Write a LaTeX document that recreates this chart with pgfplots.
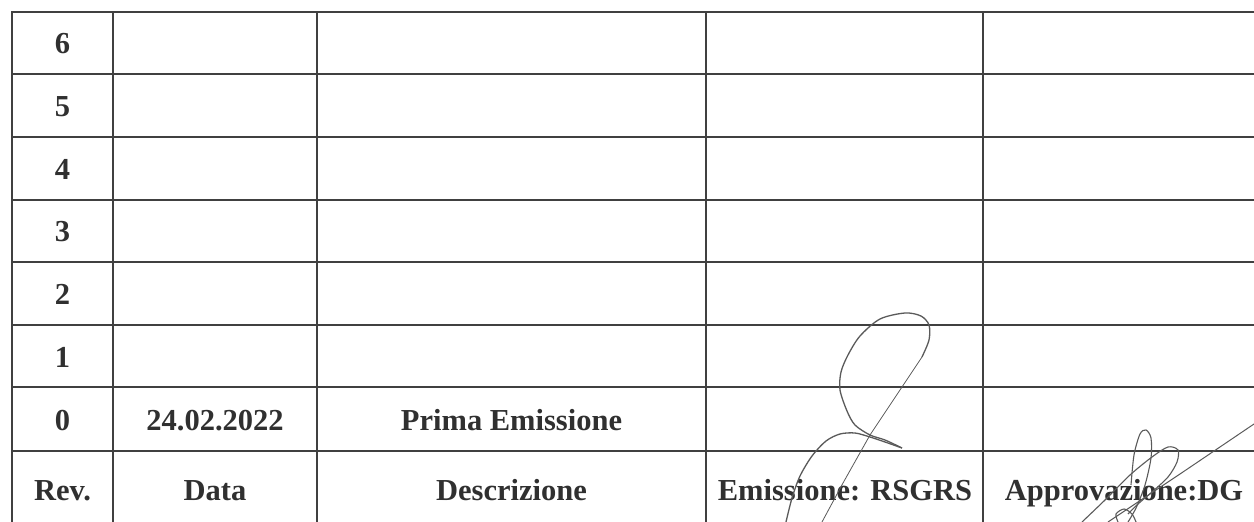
\documentclass[border=0pt]{standalone}
\usepackage{pgfplots}
\pgfplotsset{compat=1.18}
\usepackage{fontspec}
\setmainfont{Liberation Serif}
\definecolor{ink}{HTML}{303030}
\definecolor{rule}{HTML}{404040}
\definecolor{sig}{HTML}{5A5A5A}
\tikzset{
  grid line/.style={rule, line width=1.8pt},
  sigline/.style={sig, line width=1.1pt, smooth},
  txt/.style={anchor=base, text=ink, font=\fontsize{30.5}{36}\selectfont\bfseries},
}
\begin{document}
\begin{tikzpicture}
\begin{axis}[
  width=1254pt, height=522pt, scale only axis,
  xmin=0, xmax=1254, ymin=0, ymax=522, y dir=reverse,
  axis line style={draw=none}, ticks=none,
  clip=true,
  every axis plot/.append style={no marks},
]
% horizontal rules
\addplot[grid line] coordinates {(12,12) (1254,12)};
\addplot[grid line] coordinates {(12,74) (1254,74)};
\addplot[grid line] coordinates {(12,136.7) (1254,136.7)};
\addplot[grid line] coordinates {(12,200) (1254,200)};
\addplot[grid line] coordinates {(12,262.3) (1254,262.3)};
\addplot[grid line] coordinates {(12,325) (1254,325)};
\addplot[grid line] coordinates {(12,387.3) (1254,387.3)};
\addplot[grid line] coordinates {(12,450.7) (1254,450.7)};
% vertical rules
\addplot[grid line] coordinates {(12,11) (12,522)};
\addplot[grid line] coordinates {(113.3,11) (113.3,522)};
\addplot[grid line] coordinates {(316.7,11) (316.7,522)};
\addplot[grid line] coordinates {(706,11) (706,522)};
\addplot[grid line] coordinates {(983,11) (983,522)};
% text
\node[txt] at (axis cs:62.5,53.5) {6};
\node[txt] at (axis cs:62.5,116.3) {5};
\node[txt] at (axis cs:62.5,179) {4};
\node[txt] at (axis cs:62.5,241.8) {3};
\node[txt] at (axis cs:62.5,304.6) {2};
\node[txt] at (axis cs:62.5,367.4) {1};
\node[txt] at (axis cs:62.5,430.2) {0};
\node[txt] at (axis cs:215,430.2) {24.02.2022};
\node[txt] at (axis cs:511.5,430.2) {Prima Emissione};
\node[txt] at (axis cs:62.5,500) {Rev.};
\node[txt] at (axis cs:215,500) {Data};
\node[txt] at (axis cs:511.5,500) {Descrizione};
\node[txt] at (axis cs:845,500) {Emissione: RSGRS};
\node[txt] at (axis cs:1124,500) {Approvazione:DG};
% signature 1 (Emissione)
\addplot[sigline, line width=1.3pt] coordinates {
 (902,448) (885,440) (870,435) (855,425) (847,411) (840,390) (841,372) (848,355) (860,336) (880,319) (905,313) (921,316) (929,325) (929,340) (922,357)};
\addplot[sig, line width=0.8pt] coordinates {(922,357) (870,435) (843,483) (822,522)};
\addplot[sigline, line width=1.3pt] coordinates {
 (902,448) (885,442) (870,437) (855,433) (840,434) (826,441) (812,456) (800,476) (792,498) (786,522)};
% signature 2 (Approvazione)
\addplot[sigline] coordinates {(1131,485) (1134,455) (1140,434) (1146,430) (1151,438) (1151,458) (1145,485) (1136,508) (1128,522)};
\addplot[sigline] coordinates {(1082,522) (1105,500) (1130,475) (1152,457) (1168,447) (1178,450) (1177,462) (1168,477) (1152,492) (1138,504) (1128,514)};
\addplot[sig, line width=1.0pt] coordinates {(1108,522) (1180,474) (1254,424)};
\addplot[sigline] coordinates {(1118,522) (1116,514) (1124,509) (1132,514) (1136,522)};
\end{axis}
\end{tikzpicture}
\end{document}
